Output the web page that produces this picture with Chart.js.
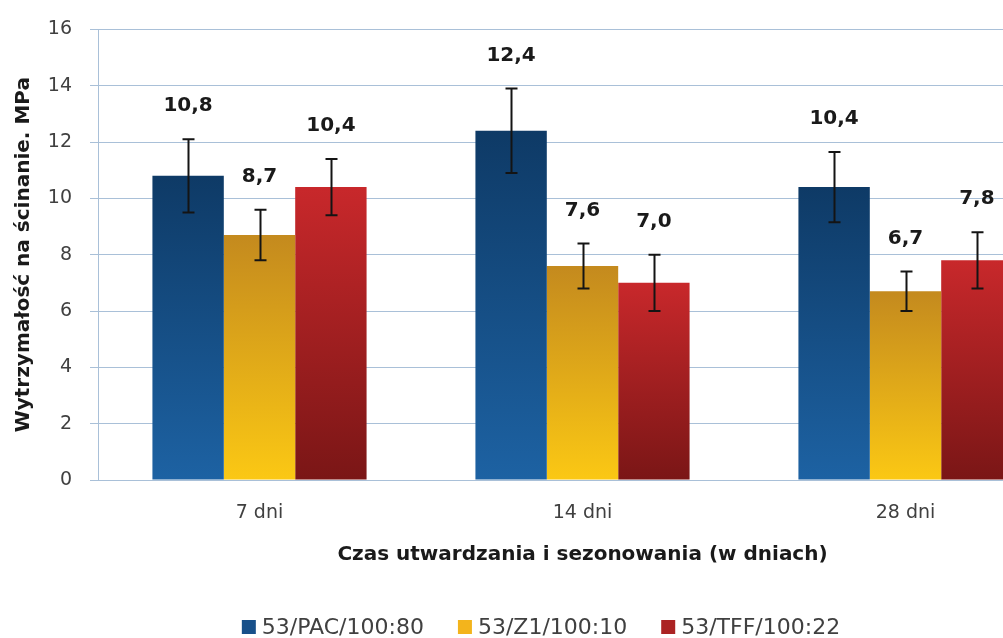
<!DOCTYPE html>
<html>
<head>
<meta charset="utf-8">
<script src="https://cdn.jsdelivr.net/npm/chart.js@4.4.1/dist/chart.umd.min.js"></script>
<style>
  html, body { margin: 0; padding: 0; background: #fff; overflow: hidden; }
  #wrap { width: 1003px; height: 638px; overflow: hidden; position: relative; }
  canvas { display: block; }
</style>
</head>
<body>
<div id="wrap"><canvas id="c" width="1082" height="638"></canvas></div>
<script>
// Curing / seasoning time groups
const categories = ['7 dni', '14 dni', '28 dni'];

// Adhesive systems
const seriesNames = ['53/PAC/100:80', '53/Z1/100:10', '53/TFF/100:22'];

// Mean shear strength, MPa
const pacValues = [10.8, 12.4, 10.4];
const z1Values  = [8.7, 7.6, 6.7];
const tffValues = [10.4, 7.0, 7.8];

// Standard deviation (error bar half-length), MPa
const pacErrors = [1.3, 1.5, 1.25];
const z1Errors  = [0.9, 0.8, 0.7];
const tffErrors = [1.0, 1.0, 1.0];

// Value-axis ticks
const yTickValues = [0, 2, 4, 6, 8, 10, 12, 14, 16];

const FONT = 'DejaVu Sans';
const GRID = '#a9c0d8';

// Vertical gradient per bar, from the bar top down to the baseline
function barFill(topColor, bottomColor) {
  return (ctx) => {
    const chart = ctx.chart;
    if (!chart.chartArea || ctx.type !== 'data' || !chart.scales.y) return bottomColor;
    const v = ctx.parsed ? ctx.parsed.y : ctx.raw;
    const yTop = chart.scales.y.getPixelForValue(v);
    const yBase = chart.scales.y.getPixelForValue(0);
    const g = chart.ctx.createLinearGradient(0, yTop, 0, yBase);
    g.addColorStop(0, topColor);
    g.addColorStop(1, bottomColor);
    return g;
  };
}

const fmt = (v) => v.toFixed(1).replace('.', ',');

// Error bars with caps and bold value labels above them
const errorBarPlugin = {
  id: 'errorBars',
  afterDatasetsDraw(chart) {
    const ctx = chart.ctx;
    const y = chart.scales.y;
    ctx.save();
    chart.data.datasets.forEach((ds, di) => {
      const meta = chart.getDatasetMeta(di);
      meta.data.forEach((bar, i) => {
        const v = ds.data[i];
        const e = ds.errors[i];
        const yT = y.getPixelForValue(v + e);
        const yB = y.getPixelForValue(v - e);
        const x = Math.round(bar.x) + 0.5;
        ctx.strokeStyle = '#141414';
        ctx.lineWidth = 2;
        ctx.beginPath();
        ctx.moveTo(x, yT); ctx.lineTo(x, yB);
        ctx.moveTo(x - 6, yT); ctx.lineTo(x + 6, yT);
        ctx.moveTo(x - 6, yB); ctx.lineTo(x + 6, yB);
        ctx.stroke();

        ctx.fillStyle = '#1a1a1a';
        ctx.font = 'bold 20px "' + FONT + '"';
        ctx.textAlign = 'center';
        ctx.textBaseline = 'middle';
        ctx.fillText(fmt(v), bar.x, yT - 33);
      });
    });
    ctx.restore();
  }
};

// Legend row centred under the chart
const legendPlugin = {
  id: 'bottomLegend',
  afterDraw(chart) {
    const ctx = chart.ctx;
    ctx.save();
    ctx.font = '22px "' + FONT + '"';
    const box = 14, gap = 6, spacing = 34;
    const items = chart.data.datasets.map(ds => ({
      label: ds.label,
      color: ds.legendColor,
      w: box + gap + ctx.measureText(ds.label).width
    }));
    const total = items.reduce((s, it) => s + it.w, 0) + spacing * (items.length - 1);
    let x = chart.width / 2 - total / 2;
    const yc = 627;
    items.forEach(it => {
      ctx.fillStyle = it.color;
      ctx.fillRect(x, yc - box / 2, box, box);
      ctx.fillStyle = '#404040';
      ctx.textAlign = 'left';
      ctx.textBaseline = 'middle';
      ctx.fillText(it.label, x + box + gap, yc + 1);
      x += it.w + spacing;
    });
    ctx.restore();
  }
};

new Chart(document.getElementById('c'), {
  type: 'bar',
  data: {
    labels: categories,
    datasets: [
      { label: seriesNames[0], data: pacValues, errors: pacErrors,
        backgroundColor: barFill('#0e3a66', '#1d62a3'), legendColor: '#17508a' },
      { label: seriesNames[1], data: z1Values, errors: z1Errors,
        backgroundColor: barFill('#c48a1e', '#fbc814'), legendColor: '#f3b41c' },
      { label: seriesNames[2], data: tffValues, errors: tffErrors,
        backgroundColor: barFill('#c8282b', '#7a1616'), legendColor: '#ab2323' }
    ]
  },
  options: {
    responsive: false,
    animation: false,
    layout: { padding: { top: 28, right: 15, bottom: 58, left: 0 } },
    datasets: { bar: { categoryPercentage: 0.663, barPercentage: 1.0 } },
    plugins: { legend: { display: false }, tooltip: { enabled: false } },
    scales: {
      x: {
        grid: { display: false, drawTicks: false },
        border: { display: false },
        ticks: { color: '#404040', font: { family: FONT, size: 19 }, padding: 22, maxRotation: 0 },
        title: {
          display: true,
          text: 'Czas utwardzania i sezonowania (w dniach)',
          color: '#1a1a1a',
          font: { family: FONT, size: 20, weight: 'bold' },
          padding: { top: 0, bottom: 13 }
        },
        afterFit(scale) { scale.height = 100; }
      },
      y: {
        min: 0,
        max: 16,
        afterBuildTicks(scale) { scale.ticks = yTickValues.map(v => ({ value: v })); },
        ticks: { color: '#404040', font: { family: FONT, size: 19 }, padding: 18 },
        grid: { color: GRID, lineWidth: 1, drawTicks: true, tickLength: 8 },
        border: { display: true, color: GRID },
        title: {
          display: true,
          text: 'Wytrzymałość na ścinanie. MPa',
          color: '#1a1a1a',
          font: { family: FONT, size: 20, weight: 'bold' },
          padding: { top: 12, bottom: 0 }
        },
        afterFit(scale) { scale.width = 98; }
      }
    }
  },
  plugins: [errorBarPlugin, legendPlugin]
});
</script>
</body>
</html>
